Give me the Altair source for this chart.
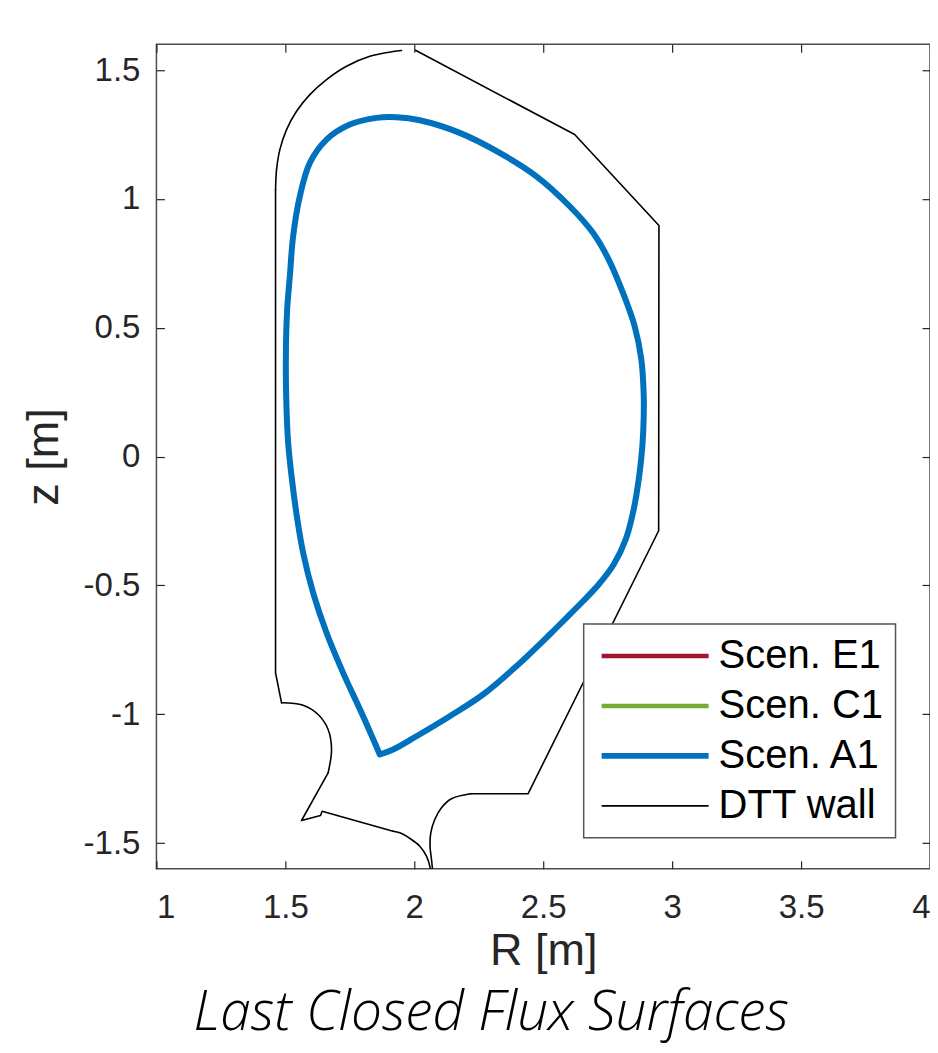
import altair as alt
import pandas as pd

# ---- data (R [m], z [m]) ----
# DTT wall, split into straight pieces and curved pieces
wall_arc_top_R = [1.9504, 1.9178, 1.8275, 1.7372, 1.6597, 1.5950, 1.5434, 1.5047, 1.4787, 1.4659, 1.4620]
wall_arc_top_z = [1.5755, 1.5716, 1.5534, 1.5146, 1.4629, 1.4047, 1.3399, 1.2689, 1.1913, 1.1137, 1.0361]
wall_inner_R = [1.4620, 1.4620, 1.4853]
wall_inner_z = [1.0361, -0.8394, -0.9558]
wall_bulge_R = [1.4853, 1.5690, 1.6271, 1.6659, 1.6791, 1.6659]
wall_bulge_z = [-0.9558, -0.9651, -1.0012, -1.0594, -1.1370, -1.2274]
wall_baffle_R = [1.6659, 1.5628, 1.6364, 1.6426, 1.9178]
wall_baffle_z = [-1.2274, -1.4125, -1.3931, -1.3764, -1.4540]
wall_div_in_R = [1.9178, 1.9438, 1.9891, 2.0213, 2.0473, 2.0628, 2.0660]
wall_div_in_z = [-1.4540, -1.4602, -1.4862, -1.5122, -1.5510, -1.6000, -1.6300]
wall_div_out_R = [2.0720, 2.0705, 2.0667, 2.0612, 2.0640, 2.0795, 2.1054, 2.1442, 2.2178]
wall_div_out_z = [-1.6300, -1.6000, -1.5638, -1.5122, -1.4602, -1.4086, -1.3632, -1.3283, -1.3089]
wall_outer_R = [2.2178, 2.4411, 2.9477, 2.9488, 2.6221, 2.0047]
wall_outer_z = [-1.3089, -1.3089, -0.2880, 0.8964, 1.2495, 1.5767]

# Last closed flux surface (the three scenarios overlap at this scale)
lcfs_R = [1.8663, 1.8016, 1.7240, 1.6597, 1.6078, 1.5690, 1.5465, 1.5240, 1.5109,
          1.5047, 1.5019, 1.5070, 1.5174, 1.5302, 1.5562, 1.5950, 1.6597, 1.7500,
          1.8535, 1.9310, 2.0213, 2.1764, 2.3314, 2.4736, 2.6027, 2.6930, 2.7539,
          2.8093, 2.8547, 2.8806, 2.8895, 2.8895, 2.8845, 2.8721, 2.8508, 2.8198,
          2.7733, 2.7151, 2.6531, 2.5911, 2.5291, 2.3961, 2.2667, 2.1376, 2.0085, 1.9178, 1.8663]
lcfs_z = [-1.1564, -1.0078, -0.8394, -0.6841, -0.5289, -0.3737, -0.2445, -0.0764, 0.0532,
          0.1824, 0.3764, 0.5704, 0.6997, 0.8549, 1.0101, 1.1397, 1.2301, 1.2883,
          1.3143, 1.3166, 1.3050, 1.2561, 1.1785, 1.0877, 0.9713, 0.8681, 0.7645,
          0.6352, 0.5056, 0.3764, 0.2472, 0.1436, 0.0400, -0.0764, -0.2057, -0.3221,
          -0.4191, -0.4967, -0.5627, -0.6248, -0.6868, -0.8137, -0.9236, -1.0078, -1.0854, -1.1370, -1.1564]

series = ["Scen. E1", "Scen. C1", "Scen. A1", "DTT wall"]
colors = ["#A2142F", "#77AC30", "#0072BD", "#000000"]
widths = [4.5, 4.5, 6.0, 1.6]

x_ticks = [1, 1.5, 2, 2.5, 3, 3.5, 4]
y_ticks = [-1.5, -1, -0.5, 0, 0.5, 1, 1.5]

rows = []
for s in series[:3]:
    for i, (r, z) in enumerate(zip(lcfs_R, lcfs_z)):
        rows.append({"R": r, "z": z, "series": s, "seg": s, "smooth": 1, "idx": i})
wall_parts = [
    ("top arc", wall_arc_top_R, wall_arc_top_z, 1),
    ("inner", wall_inner_R, wall_inner_z, 0),
    ("bulge", wall_bulge_R, wall_bulge_z, 1),
    ("baffle", wall_baffle_R, wall_baffle_z, 0),
    ("div in", wall_div_in_R, wall_div_in_z, 1),
    ("div out", wall_div_out_R, wall_div_out_z, 1),
    ("outer", wall_outer_R, wall_outer_z, 0),
]
for name, rs, zs, sm in wall_parts:
    for i, (r, z) in enumerate(zip(rs, zs)):
        rows.append({"R": r, "z": z, "series": "DTT wall", "seg": name, "smooth": sm, "idx": i})
df = pd.DataFrame(rows)

W, H = 774, 825
xscale = alt.Scale(domain=[1, 4], nice=False, zero=False)
yscale = alt.Scale(domain=[-1.6, 1.6], nice=False, zero=False)

leg = alt.Legend(title=None, orient="none", legendX=427.5, legendY=580)
color = alt.Color("series:N", scale=alt.Scale(domain=series, range=colors), sort=series, legend=leg)
swidth = alt.StrokeWidth("series:N", scale=alt.Scale(type="ordinal", domain=series, range=widths),
                         sort=series, legend=leg)

axcol = "#262626"
x_label_axis = alt.Axis(orient="bottom", values=x_ticks, labelExpr="datum.value + ''",
                        ticks=False, tickSize=0, domain=False, grid=False,
                        labelFontSize=33, labelPadding=23, title="R [m]",
                        titleFontSize=45, titleY=96, titleBaseline="alphabetic")
x_tick_bottom = alt.Axis(orient="top", offset=-H, values=x_ticks, labels=False, title=None,
                         domain=False, grid=False, tickSize=8, tickWidth=1.2, tickColor=axcol)
x_tick_top = alt.Axis(orient="bottom", offset=-H, values=x_ticks, labels=False, title=None,
                      domain=False, grid=False, tickSize=8, tickWidth=1.2, tickColor=axcol)
y_label_axis = alt.Axis(orient="left", values=y_ticks, labelExpr="datum.value + ''",
                        ticks=False, tickSize=0, domain=False, grid=False,
                        labelFontSize=33, labelPadding=16.5, title="z [m]",
                        titleFontSize=45, titleX=-98.5, titleBaseline="alphabetic")
y_tick_left = alt.Axis(orient="right", offset=-W, values=y_ticks, labels=False, title=None,
                       domain=False, grid=False, tickSize=8, tickWidth=1.2, tickColor=axcol)
y_tick_right = alt.Axis(orient="left", offset=-W, values=y_ticks, labels=False, title=None,
                        domain=False, grid=False, tickSize=8, tickWidth=1.2, tickColor=axcol)


def layer(name, xaxis, yaxis, smooth):
    base = alt.Chart(df).transform_filter(
        (alt.datum.series == name) & (alt.datum.smooth == smooth)
    )
    mk = base.mark_line(clip=True, strokeJoin="round", strokeCap="round",
                        interpolate="catmull-rom" if smooth else "linear")
    return mk.encode(
        x=alt.X("R:Q", scale=xscale, axis=xaxis),
        y=alt.Y("z:Q", scale=yscale, axis=yaxis),
        detail="seg:N",
        order="idx:Q",
        color=color,
        strokeWidth=swidth,
    )


chart = alt.layer(
    layer("Scen. E1", x_label_axis, y_label_axis, 1),
    layer("Scen. C1", x_tick_bottom, y_tick_left, 1),
    layer("Scen. A1", x_tick_top, y_tick_right, 1),
    layer("DTT wall", None, None, 1),
    layer("DTT wall", None, None, 0),
).resolve_axis(x="independent", y="independent").properties(
    width=W, height=H,
    autosize=alt.AutoSizeParams(type="none"),
    padding={"left": 148.5, "top": 36, "right": 0, "bottom": 176},
    title=alt.TitleParams("Last Closed Flux Surfaces", orient="bottom", anchor="middle",
                          frame="group", font="Open Sans", fontStyle="italic",
                          fontWeight=300, fontSize=55, color="#000000",
                          baseline="alphabetic", offset=56, dx=-52),
).configure_view(
    stroke="#4d4d4d", strokeWidth=1.5
).configure_axis(
    labelFont="Liberation Sans", titleFont="Liberation Sans",
    labelColor=axcol, titleColor=axcol, titleFontWeight="normal"
).configure_legend(
    symbolType="stroke", symbolSize=11449, clipHeight=40, rowPadding=10,
    padding=12, symbolOffset=3, labelOffset=7,
    labelFont="Liberation Sans", labelFontSize=40, labelColor="#000000",
    strokeColor="#555555", strokeWidth=1.5, fillColor="#ffffff",
    labelLimit=400
)

chart.save("out.html", embed_options={"renderer": "svg", "actions": False})
